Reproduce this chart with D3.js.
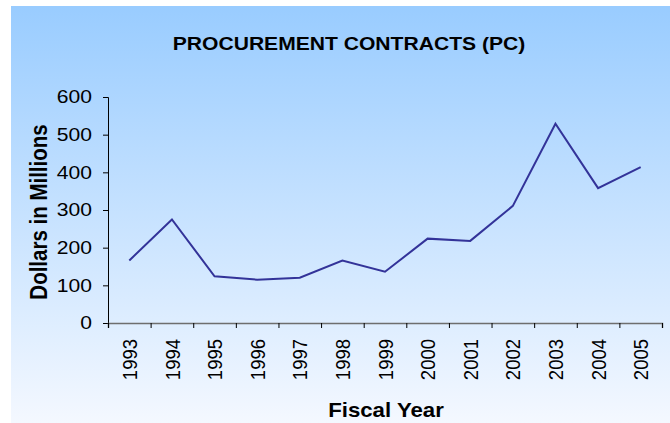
<!DOCTYPE html>
<html>
<head>
<meta charset="utf-8">
<script src="https://cdn.jsdelivr.net/npm/d3@7"></script>
<style>
  html, body { margin: 0; padding: 0; background: #ffffff; }
  svg { display: block; }
  text { font-family: "Liberation Sans", Arial, sans-serif; fill: #000; }
</style>
</head>
<body>
<svg id="chart" width="670" height="423"></svg>
<script>
const years = ["1993","1994","1995","1996","1997","1998","1999","2000","2001","2002","2003","2004","2005"];
const values = [166, 275, 124, 115, 120, 166, 136, 224, 218, 311, 529, 358, 414];
const yTicks = [0, 100, 200, 300, 400, 500, 600];
const title = "PROCUREMENT CONTRACTS (PC)";
const xTitle = "Fiscal Year";
const yTitle = "Dollars in Millions";

const W = 670, H = 423;
const plot = { left: 108, right: 662, top: 97, bottom: 323 };
const SX = 1.14; // horizontal stretch of the original rendering

const svg = d3.select("#chart");
const defs = svg.append("defs");
const grad = defs.append("linearGradient").attr("id", "bg")
  .attr("x1", 0).attr("y1", 0).attr("x2", 0).attr("y2", 1);
grad.append("stop").attr("offset", "0%").attr("stop-color", "#99CCFF");
grad.append("stop").attr("offset", "100%").attr("stop-color", "#F4F8FF");

svg.append("rect").attr("x", 11).attr("y", 6).attr("width", W - 11).attr("height", H - 6)
  .attr("fill", "url(#bg)");

const x = d3.scaleBand().domain(years).range([plot.left, plot.right]).paddingInner(0).paddingOuter(0);
const xEdge = d3.scaleLinear().domain([0, years.length]).range([plot.left, plot.right]);
const y = d3.scaleLinear().domain([0, 600]).range([plot.bottom, plot.top]);

function stretchedText(g, str, tx, ty, opts) {
  const rot = opts.rotate ? ` rotate(${opts.rotate})` : "";
  return g.append("text")
    .attr("transform", `translate(${tx},${ty}) scale(${SX},1)${rot}`)
    .attr("text-anchor", opts.anchor || "middle")
    .attr("dy", opts.dy || 0)
    .style("font-size", opts.size + "px")
    .style("font-weight", opts.bold ? "bold" : "normal")
    .text(str);
}

// Y axis
const yAxis = svg.append("g").attr("transform", `translate(${plot.left},0)`)
  .call(d3.axisLeft(y).tickValues(yTicks).tickSize(5).tickFormat(""));
yAxis.select(".domain").attr("stroke", "#000").attr("stroke-width", 1);
yAxis.selectAll(".tick line").attr("stroke", "#000");

yTicks.forEach(v => {
  stretchedText(svg, String(v), 92, y(v), { anchor: "end", size: 18.5, dy: "0.35em" });
});

// X axis
const xAxis = svg.append("g").attr("transform", `translate(0,${plot.bottom})`)
  .call(d3.axisBottom(xEdge).tickValues(d3.range(years.length + 1)).tickSize(5).tickFormat(""));
xAxis.select(".domain").attr("stroke", "#6e6e6e").attr("stroke-width", 1.5);
xAxis.selectAll(".tick line").attr("stroke", "#000");

years.forEach(yr => {
  stretchedText(svg, yr, x(yr) + x.bandwidth() / 2, 339,
    { anchor: "end", size: 18.5, rotate: -90, dy: "0.36em" });
});

// Line
const line = d3.line()
  .x((d, i) => x(years[i]) + x.bandwidth() / 2)
  .y(d => y(d));
svg.append("path").datum(values)
  .attr("d", line)
  .attr("fill", "none")
  .attr("stroke", "#333399")
  .attr("stroke-width", 2)
  .attr("stroke-linejoin", "miter");

// Titles
stretchedText(svg, title, 349, 50, { size: 18.5, bold: true });
stretchedText(svg, xTitle, 386, 416.5, { size: 19.5, bold: true });
stretchedText(svg, yTitle, 47, (plot.top + plot.bottom) / 2 + 2,
  { size: 20.5, bold: true, rotate: -90 });
</script>
</body>
</html>
